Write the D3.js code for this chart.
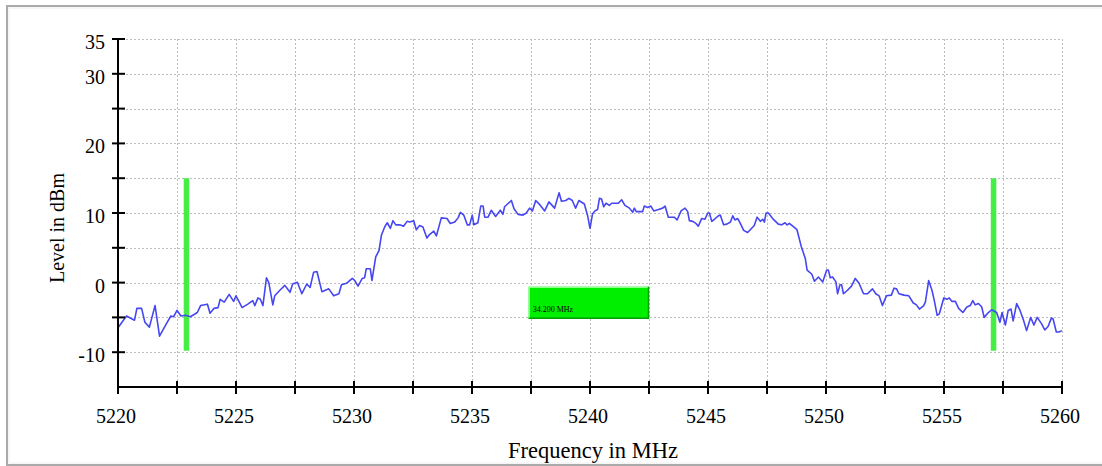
<!DOCTYPE html>
<html>
<head>
<meta charset="utf-8">
<script src="https://cdn.jsdelivr.net/npm/d3@7"></script>
<style>
  html, body { margin: 0; padding: 0; background: #fff; }
  svg { display: block; }
  text { font-family: "Liberation Serif", "Times New Roman", serif; fill: #000; }
</style>
</head>
<body>
<svg id="chart" width="1102" height="466"></svg>
<script>
// ---- data ----
const freqMHz = [
  5220.00,5220.36,5220.70,5220.80,5221.00,5221.14,5221.33,5221.57,5221.76,5222.07,
  5222.24,5222.36,5222.50,5222.67,5222.86,5223.07,5223.36,5223.50,5223.79,5223.90,
  5224.07,5224.24,5224.33,5224.50,5224.71,5224.90,5225.00,5225.26,5225.50,5225.71,
  5225.80,5225.93,5226.03,5226.14,5226.29,5226.39,5226.56,5226.64,5226.86,5227.07,
  5227.29,5227.40,5227.60,5227.79,5228.00,5228.14,5228.29,5228.43,5228.64,5228.93,
  5229.14,5229.36,5229.47,
  5229.68,5229.93,5230.03,5230.17,5230.35,5230.45,5230.52,5230.69,5230.76,5230.92,
  5231.06,5231.16,5231.30,5231.41,5231.54,5231.65,5231.77,5231.94,5232.10,5232.25,
  5232.36,5232.53,5232.64,5232.78,5232.92,5233.09,5233.20,5233.38,5233.49,5233.70,
  5233.94,5234.08,5234.27,5234.41,5234.51,5234.65,5234.80,5234.90,5235.01,5235.08,
  5235.25,5235.37,5235.47,5235.54,5235.68,5235.82,5236.00,5236.20,5236.31,5236.38,
  5236.67,5236.78,5236.95,5237.16,5237.30,5237.44,5237.56,5237.70,5237.87,5238.08,
  5238.26,5238.50,5238.69,5238.79,5238.97,5239.11,5239.25,5239.39,5239.53,
  5239.76,5239.90,5240.00,5240.11,5240.21,5240.32,5240.40,5240.49,5240.58,5240.68,
  5240.82,5240.92,5241.20,5241.34,5241.48,5241.67,5241.81,5241.88,5241.96,5242.23,
  5242.30,5242.44,5242.58,5242.70,5242.90,5243.08,5243.18,5243.32,5243.57,5243.69,
  5243.86,5244.03,5244.14,5244.21,5244.35,5244.49,5244.59,5244.73,5244.87,5244.99,
  5245.06,5245.16,5245.27,5245.44,5245.52,5245.66,5245.80,5245.95,5246.05,5246.14,
  5246.26,5246.37,5246.51,5246.68,5246.82,5246.96,5247.08,5247.22,5247.32,5247.39,
  5247.46,5247.56,5247.74,5247.98,5248.12,5248.26,5248.35,5248.45,5248.63,5248.77,
  5248.95,5249.12,5249.20,5249.40,5249.51,5249.68,5249.86,5250.03,5250.10,5250.18,
  5250.28,5250.42,5250.49,5250.59,5250.66,5250.74,5250.91,5251.08,5251.24,5251.40,
  5251.59,5251.76,5251.97,5252.11,5252.25,5252.39,5252.56,5252.77,5252.88,5252.99,
  5253.09,5253.30,5253.51,5253.69,5253.83,5253.96,5254.14,5254.21,5254.35,5254.49,
  5254.59,5254.71,5254.80,5254.99,5255.13,5255.22,5255.34,5255.48,5255.62,5255.80,
  5255.97,5256.11,5256.22,5256.32,5256.46,5256.60,5256.70,5256.88,5257.02,5257.23,
  5257.37,5257.46,5257.60,5257.72,5257.84,5257.93,5258.08,5258.22,5258.36,5258.50,
  5258.67,5258.81,5258.95,5259.13,5259.27,5259.41,5259.55,5259.62,5259.76,5259.87,
  5260.00
];
const levelDbm = [
  -6.5,-4.8,-5.4,-3.7,-3.7,-5.7,-6.4,-3.3,-7.7,-5.8,
  -4.8,-4.9,-4.0,-4.8,-4.7,-4.9,-4.3,-3.3,-3.1,-4.4,
  -3.7,-3.6,-2.4,-2.8,-1.7,-2.7,-1.9,-3.6,-3.1,-2.6,
  -3.3,-2.2,-2.4,-3.3,0.7,0.0,-3.2,-1.9,-1.1,-0.4,
  -1.4,-0.2,0.05,-1.6,-0.2,-0.7,1.5,1.6,-1.3,-0.9,
  -1.9,-1.6,-0.3,
  -0.1,0.6,0.3,-0.5,0.6,0.7,2.0,2.0,0.3,3.7,
  4.6,6.8,8.0,8.6,7.8,8.9,8.3,8.3,8.1,8.8,
  8.7,8.9,7.6,8.2,8.0,6.4,6.9,7.4,6.7,9.3,
  9.2,8.5,8.7,9.3,10.1,9.7,8.3,8.3,9.7,8.3,
  8.6,11.0,11.0,9.4,9.4,10.4,9.5,10.4,9.8,10.9,
  11.8,10.6,9.8,9.7,10.0,10.7,10.3,11.8,11.2,10.3,
  11.6,10.7,12.9,11.7,11.8,12.1,11.8,10.7,11.8,
  11.3,9.6,7.8,9.9,10.3,10.5,12.1,12.0,10.9,11.4,
  11.1,11.4,11.4,11.9,11.1,10.7,10.1,10.7,10.2,10.2,
  11.0,10.8,11.0,10.3,10.5,10.7,11.0,9.4,9.4,9.0,
  10.3,10.7,10.2,8.9,8.8,8.5,8.1,9.2,9.1,10.0,
  10.0,8.8,9.1,9.6,9.7,8.3,8.4,8.7,9.6,9.0,
  9.2,8.5,7.5,7.2,7.7,8.2,9.4,8.8,9.1,8.7,
  10.0,10.0,9.2,8.4,8.3,8.6,8.3,8.5,8.0,7.6,
  5.2,3.5,1.8,1.2,0.2,0.8,0.1,1.8,1.8,0.7,
  0.8,0.1,-1.6,-0.3,-0.3,-1.6,-1.1,-0.5,0.6,-0.1,
  -1.6,-1.6,-0.9,-1.6,-1.9,-3.3,-1.9,-1.8,-0.8,-0.9,
  -1.6,-1.8,-1.9,-2.9,-3.2,-3.8,-3.3,-2.8,0.3,-1.1,
  -2.6,-4.7,-4.5,-2.2,-2.4,-2.2,-2.7,-2.7,-3.7,-4.3,
  -3.5,-3.3,-2.6,-3.2,-3.0,-3.5,-5.0,-4.3,-3.9,-4.3,
  -5.7,-4.3,-6.1,-4.0,-3.8,-5.5,-3.0,-4.0,-5.3,-6.9,
  -5.0,-6.1,-5.0,-5.9,-6.8,-6.3,-5.1,-5.2,-7.1,-7.1,
  -6.9
];
const markerFreqs = [5222.9, 5257.1];        // marker lines
const markerLevels = [-9.8, 15];              // marker line span
const bandwidthLabel = "34.200 MHz";
const xTickValues = d3.range(5220, 5260.01, 2.5);
const xTickLabels = [5220, 5225, 5230, 5235, 5240, 5245, 5250, 5255, 5260];
const yTickValues = d3.range(-15, 35.01, 5);
const yTickLabels = [35, 30, 20, 10, 0, -10];
const boxFreqs = [5237.4, 5242.5];
const boxLevels = [-5.2, -0.6];

// ---- layout ----
const svg = d3.select("#chart");
const x = d3.scaleLinear().domain([5220, 5260]).range([118, 1062]);
const y = d3.scaleLinear().domain([-15, 35]).range([387, 39]);

// outer frame
svg.append("rect").attr("x", 7).attr("y", 6).attr("width", 1100).attr("height", 459)
  .attr("fill", "#fff").attr("stroke", "#aaaaaa").attr("stroke-width", 2);
svg.append("rect").attr("x", 9).attr("y", 8).attr("width", 1100).attr("height", 455)
  .attr("fill", "none").attr("stroke", "#eeeeee").attr("stroke-width", 1);

// grid
const grid = svg.append("g").attr("stroke", "#bdbdbd").attr("stroke-width", 1)
  .attr("stroke-dasharray", "2,2");
grid.selectAll("line.h").data(yTickValues.filter(v => v > -15)).enter().append("line")
  .attr("x1", x(5220)).attr("x2", x(5260))
  .attr("y1", d => Math.round(y(d)) + 0.5).attr("y2", d => Math.round(y(d)) + 0.5);
grid.selectAll("line.v").data(xTickValues.filter(v => v > 5220)).enter().append("line")
  .attr("y1", y(35)).attr("y2", y(-15))
  .attr("x1", d => Math.round(x(d)) + 0.5).attr("x2", d => Math.round(x(d)) + 0.5);

// markers
svg.selectAll("line.marker").data(markerFreqs).enter().append("line")
  .attr("x1", d => x(d)).attr("x2", d => x(d))
  .attr("y1", y(markerLevels[0])).attr("y2", y(markerLevels[1]))
  .attr("stroke", "#44ee44").attr("stroke-width", 5.5);

// trace
const line = d3.line().x((d, i) => x(freqMHz[i])).y(d => y(d));
svg.append("path").datum(levelDbm).attr("d", line)
  .attr("fill", "none").attr("stroke", "#4646f2").attr("stroke-width", 1.6)
  .attr("stroke-linejoin", "round");

// bandwidth box
const bx0 = x(boxFreqs[0]), bx1 = x(boxFreqs[1]);
const by0 = y(boxLevels[1]), by1 = y(boxLevels[0]);
const bg = svg.append("g");
bg.append("rect").attr("x", bx0).attr("y", by0).attr("width", bx1 - bx0).attr("height", by1 - by0)
  .attr("fill", "#00ee00");
bg.append("path").attr("d", `M${bx0 + 0.5},${by1} L${bx0 + 0.5},${by0 + 0.5} L${bx1},${by0 + 0.5}`)
  .attr("fill", "none").attr("stroke", "#90ff90").attr("stroke-width", 1.5);
bg.append("path").attr("d", `M${bx0},${by1 - 0.5} L${bx1 - 0.5},${by1 - 0.5} L${bx1 - 0.5},${by0}`)
  .attr("fill", "none").attr("stroke", "#00a000").attr("stroke-width", 1.5);
bg.append("text").attr("x", bx0 + 4).attr("y", by0 + 25).attr("font-size", 8).text(bandwidthLabel);

// axes
const ax = svg.append("g").attr("stroke", "#000").attr("stroke-width", 2);
ax.append("line").attr("x1", x(5220)).attr("x2", x(5220)).attr("y1", y(35)).attr("y2", y(-15) + 1);
ax.append("line").attr("x1", x(5220) - 1).attr("x2", x(5260)).attr("y1", y(-15)).attr("y2", y(-15));
ax.selectAll("line.yt").data(yTickValues.filter(v => v > -15)).enter().append("line")
  .attr("x1", x(5220) - 6).attr("x2", x(5220) + 7)
  .attr("y1", d => y(d)).attr("y2", d => y(d));
ax.selectAll("line.xt").data(xTickValues).enter().append("line")
  .attr("x1", d => x(d)).attr("x2", d => x(d))
  .attr("y1", y(-15) - 6).attr("y2", y(-15) + 7);

svg.selectAll("text.yl").data(yTickLabels).enter().append("text")
  .attr("x", x(5220) - 13).attr("y", d => y(d)).attr("dy", "0.5em")
  .attr("text-anchor", "end").attr("font-size", 20).text(d => d);
svg.selectAll("text.xl").data(xTickLabels).enter().append("text")
  .attr("x", d => x(d) - 2).attr("y", y(-15) + 36)
  .attr("text-anchor", "middle").attr("font-size", 20).text(d => d);

svg.append("text").attr("x", 593).attr("y", 458).attr("text-anchor", "middle")
  .attr("font-size", 22.5).text("Frequency in MHz");
svg.append("text").attr("transform", "translate(64,228) rotate(-90)").attr("text-anchor", "middle")
  .attr("font-size", 20).text("Level in dBm");
</script>
</body>
</html>
